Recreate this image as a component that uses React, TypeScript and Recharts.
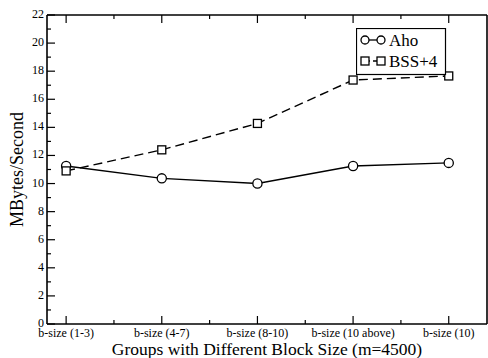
import React from "react";
import { LineChart, Line, XAxis, YAxis } from "recharts";

const positions = [1, 2, 3, 4, 5];
const groupLabels = ["b-size (1-3)", "b-size (4-7)", "b-size (8-10)", "b-size (10 above)", "b-size (10)"];
const ahoValues = [11.25, 10.37, 10.0, 11.25, 11.47];
const bssValues = [10.9, 12.4, 14.28, 17.37, 17.66];
const yTicks = [0, 1, 2, 3, 4, 5, 6, 7, 8, 9, 10, 11, 12, 13, 14, 15, 16, 17, 18, 19, 20, 21, 22];
const xTicks = [1, 1.5, 2, 2.5, 3, 3.5, 4, 4.5, 5];
const seriesNames = ["Aho", "BSS+4"];

const data = positions.map((p, i) => ({ pos: p, aho: ahoValues[i], bss: bssValues[i] }));

const font = "Liberation Serif, DejaVu Serif, serif";

function BottomTick(props: any) {
  const { x, y, payload } = props;
  const major = Number.isInteger(payload.value);
  const idx = positions.indexOf(payload.value);
  return (
    <g>
      <line x1={x} y1={y} x2={x} y2={y - (major ? 8 : 4)} stroke="#000" strokeWidth={1.2} />
      {major && (
        <text x={x} y={y + 13} textAnchor="middle" fontSize={12} fontFamily={font} fill="#000">
          {groupLabels[idx]}
        </text>
      )}
    </g>
  );
}

function TopTick(props: any) {
  const { x, y, payload } = props;
  const major = Number.isInteger(payload.value);
  return <line x1={x} y1={y} x2={x} y2={y + (major ? 8 : 4)} stroke="#000" strokeWidth={1.2} />;
}

function LeftTick(props: any) {
  const { x, y, payload } = props;
  const major = payload.value % 2 === 0;
  return (
    <g>
      <line x1={x} y1={y} x2={x + (major ? 8 : 4)} y2={y} stroke="#000" strokeWidth={1.2} />
      {major && (
        <text x={x - 3} y={y + 3} textAnchor="end" fontSize={12} fontFamily={font} fill="#000">
          {payload.value}
        </text>
      )}
    </g>
  );
}

function RightTick(props: any) {
  const { x, y, payload } = props;
  const major = payload.value % 2 === 0;
  return <line x1={x} y1={y} x2={x - (major ? 8 : 4)} y2={y} stroke="#000" strokeWidth={1.2} />;
}

function CircleDot(props: any) {
  const { cx, cy } = props;
  return <circle cx={cx} cy={cy} r={4.6} fill="#fff" stroke="#000" strokeWidth={1.3} />;
}

function SquareDot(props: any) {
  const { cx, cy } = props;
  return <rect x={cx - 4} y={cy - 4} width={8} height={8} fill="#fff" stroke="#000" strokeWidth={1.3} />;
}

function LegendBox() {
  return (
    <svg width={92} height={48} style={{ display: "block" }}>
      <rect x={0.5} y={0.5} width={89} height={46} fill="#fff" stroke="#000" strokeWidth={1.2} />
      <line x1={9} y1={12} x2={25} y2={12} stroke="#000" strokeWidth={1.3} />
      <circle cx={9} cy={12} r={4} fill="#fff" stroke="#000" strokeWidth={1.3} />
      <circle cx={25} cy={12} r={4} fill="#fff" stroke="#000" strokeWidth={1.3} />
      <text x={33} y={18} fontSize={17} fontFamily={font} fill="#000">{seriesNames[0]}</text>
      <line x1={9} y1={33} x2={25} y2={33} stroke="#000" strokeWidth={1.3} strokeDasharray="5 3" />
      <rect x={5} y={29} width={8} height={8} fill="#fff" stroke="#000" strokeWidth={1.3} />
      <rect x={21} y={29} width={8} height={8} fill="#fff" stroke="#000" strokeWidth={1.3} />
      <text x={33} y={39} fontSize={17} fontFamily={font} fill="#000">{seriesNames[1]}</text>
    </svg>
  );
}

export default function App() {
  return (
    <div style={{ position: "absolute", left: 0, top: 0, width: 488, height: 358, background: "#fff" }}>
      <LineChart width={488} height={358} data={data} margin={{ top: 0, right: 0, left: 0, bottom: 0 }}>
        <XAxis
          xAxisId="bottom"
          dataKey="pos"
          type="number"
          domain={[0.8, 5.4]}
          ticks={xTicks}
          interval={0}
          height={34}
          tickSize={0}
          tickMargin={0}
          tick={<BottomTick />}
          axisLine={{ stroke: "#000", strokeWidth: 1.6 }}
          tickLine={false}
          label={{ value: "Groups with Different Block Size (m=4500)", position: "insideBottom", offset: 3, fontSize: 17.5, fontFamily: font, fill: "#000" }}
        />
        <XAxis
          xAxisId="top"
          orientation="top"
          dataKey="pos"
          type="number"
          domain={[0.8, 5.4]}
          ticks={xTicks}
          interval={0}
          height={15}
          tickSize={0}
          tickMargin={0}
          tick={<TopTick />}
          axisLine={{ stroke: "#000", strokeWidth: 1.6 }}
          tickLine={false}
        />
        <YAxis
          yAxisId="left"
          domain={[0, 22]}
          ticks={yTicks}
          interval={0}
          width={47}
          tickSize={0}
          tickMargin={0}
          tick={<LeftTick />}
          axisLine={{ stroke: "#000", strokeWidth: 1.6 }}
          tickLine={false}
          label={{ value: "MBytes/Second", angle: -90, position: "insideLeft", offset: 17, fontSize: 18, fontFamily: font, fill: "#000", style: { textAnchor: "middle" } }}
        />
        <YAxis
          yAxisId="right"
          orientation="right"
          domain={[0, 22]}
          ticks={yTicks}
          interval={0}
          width={1}
          tickSize={0}
          tickMargin={0}
          tick={<RightTick />}
          axisLine={{ stroke: "#000", strokeWidth: 1.6 }}
          tickLine={false}
        />
        <Line
          xAxisId="bottom"
          yAxisId="left"
          dataKey="aho"
          stroke="#000"
          strokeWidth={1.4}
          dot={<CircleDot />}
          isAnimationActive={false}
        />
        <Line
          xAxisId="bottom"
          yAxisId="left"
          dataKey="bss"
          stroke="#000"
          strokeWidth={1.4}
          strokeDasharray="9 5"
          dot={<SquareDot />}
          isAnimationActive={false}
        />
      </LineChart>
      <div style={{ position: "absolute", left: 356, top: 28 }}>
        <LegendBox />
      </div>
    </div>
  );
}
